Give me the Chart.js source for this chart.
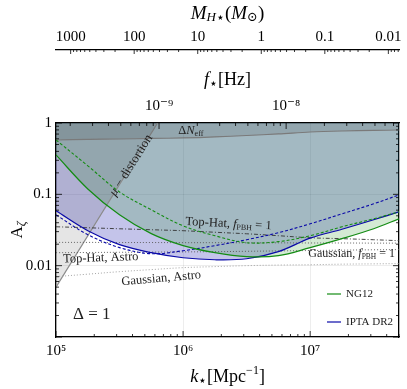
<!DOCTYPE html>
<html>
<head>
<meta charset="utf-8">
<script src="https://cdn.jsdelivr.net/npm/chart.js@4/dist/chart.umd.min.js"></script>
<style>
html, body { margin: 0; padding: 0; background: #fff; }
#wrap { width: 407px; height: 389px; }
</style>
</head>
<body>
<div id="wrap"><canvas id="chart"></canvas></div>
<script>
// k grid (Mpc^-1) shared by all curves
const kGrid = [1e5, 1.78e5, 3.16e5, 5.62e5, 1e6, 1.78e6, 3.16e6, 5.62e6, 1e7, 1.78e7, 3.16e7, 5e7];

// PTA bounds on A_zeta
const ng12Solid = [0.357, 0.119, 0.0516, 0.0281, 0.0191, 0.0152, 0.0134, 0.0138, 0.0179, 0.0239, 0.0329, 0.0454];
const ng12Dashed = [0.578, 0.251, 0.108, 0.0607, 0.0362, 0.0263, 0.0210, 0.0217, 0.0263, 0.0351, 0.0454, 0.0569];
const iptaSolid = [0.0587, 0.0309, 0.0197, 0.0152, 0.0129, 0.0121, 0.0125, 0.0157, 0.0243, 0.0324, 0.0440, 0.0569];
const iptaDashed = [0.0516, 0.0272, 0.0179, 0.0147, 0.0162, 0.0191, 0.0231, 0.0290, 0.0386, 0.0533, 0.0736, 0.0984];

// other bounds
const dNeff = [0.578, 0.588, 0.597, 0.607, 0.617, 0.637, 0.668, 0.702, 0.748, 0.773, 0.786, 0.798];
const topHatFpbh = [0.0351, 0.0340, 0.0329, 0.0319, 0.0309, 0.0294, 0.0280, 0.0263, 0.0246, 0.0239, 0.0231, 0.0224];
const gaussFpbh = [0.0212, 0.0212, 0.0211, 0.0211, 0.0210, 0.0210, 0.0209, 0.0209, 0.0208, 0.0208, 0.0207, 0.0207];
const topHatAstro = [0.0152, 0.0153, 0.0154, 0.0155, 0.0156, 0.0157, 0.0159, 0.0161, 0.0163, 0.0165, 0.0167, 0.0168];
const gaussAstro = [0.00702, 0.0076, 0.00824, 0.0088, 0.00938, 0.0097, 0.0100, 0.0102, 0.0103, 0.0105, 0.0106, 0.0107];

// mu-distortion edge
const muK = [1e5, 6.3e5];
const muA = [0.005, 1];

// axis ranges and conversions
const kMin = 1e5, kMax = 5e7;
const aMin = 1e-3, aMax = 1;
const fPerK = 1.546e-15;      // Hz per Mpc^-1
const mAtK6 = 17;             // M_H in M_sun at k = 1e6 Mpc^-1
const fTicks = [1e-9, 1e-8];
const mTicks = [1000, 100, 10, 1, 0.1, 0.01];

const SERIF = '"Liberation Serif", "DejaVu Serif", serif';
const GREEN = '#148c14';
const BLUE = '#0a0aa8';

const pts = (xs, ys) => xs.map((x, i) => ({ x: x, y: ys[i] }));
const isDecade = v => { const l = Math.log10(v); return Math.abs(l - Math.round(l)) < 1e-6; };
const SUP = { '-': '⁻', '0': '⁰', '1': '¹', '2': '²', '3': '³', '4': '⁴', '5': '⁵', '6': '⁶', '7': '⁷', '8': '⁸', '9': '⁹' };
const pow10 = v => '10' + String(Math.round(Math.log10(v))).split('').map(c => SUP[c]).join('');

function line(label, data, color, width, dash, extra) {
  return Object.assign({
    label: label, data: data, borderColor: color, borderWidth: width,
    borderDash: dash || [], pointRadius: 0, fill: false, tension: 0.35
  }, extra || {});
}

const datasets = [
  line('NG12', pts(kGrid, ng12Solid), GREEN, 1.2, null, { legend: true }),
  line('NG12 dashed', pts(kGrid, ng12Dashed), GREEN, 1.1, [3, 2]),
  line('IPTA DR2', pts(kGrid, iptaSolid), BLUE, 1.2, null, { legend: true }),
  line('IPTA dashed', pts(kGrid, iptaDashed), BLUE, 1.1, [3, 2]),
  line('Top-Hat fPBH', pts(kGrid, topHatFpbh), '#333', 0.9, [4, 2, 1, 2]),
  line('Gaussian fPBH', pts(kGrid, gaussFpbh), '#555', 0.9, [1, 2]),
  line('Top-Hat Astro', pts(kGrid, topHatAstro), '#555', 0.9, [1, 2]),
  line('Gaussian Astro', pts(kGrid, gaussAstro), '#999', 0.9, [1, 2]),
  line('dNeff', pts(kGrid, dNeff), '#7a7a7a', 1.2, null, { fill: 'end', backgroundColor: 'rgba(0,0,0,0.1)' }),
  line('mu', pts(muK, muA), '#8a8a8a', 1.2, null, { fill: 'end', backgroundColor: 'rgba(0,0,0,0.1)', tension: 0 }),
  line('NG12 fill', pts(kGrid, ng12Solid), 'rgba(0,0,0,0)', 0, null, { fill: 'end', backgroundColor: 'rgba(0,128,0,0.17)' }),
  line('IPTA fill', pts(kGrid, iptaSolid), 'rgba(0,0,0,0)', 0, null, { fill: 'end', backgroundColor: 'rgba(0,0,164,0.23)' })
];

// text runs: [text, font, dy]
function runsWidth(ctx, runs) {
  let w = 0;
  runs.forEach(r => { ctx.font = r[1]; w += ctx.measureText(r[0]).width; });
  return w;
}
function drawRuns(ctx, runs, x, y, angle) {
  ctx.save();
  ctx.translate(x, y);
  ctx.rotate((angle || 0) * Math.PI / 180);
  ctx.textBaseline = 'middle';
  ctx.textAlign = 'left';
  let cx = -runsWidth(ctx, runs) / 2;
  runs.forEach(r => {
    ctx.font = r[1];
    ctx.fillText(r[0], cx, r[2] || 0);
    cx += ctx.measureText(r[0]).width;
  });
  ctx.restore();
}
const F = (size, italic) => (italic ? 'italic ' : '') + size + 'px ' + SERIF;

// annotations in data coordinates
const notes = [
  { k: 1.15e6, a: 0.77, angle: 0, runs: [['Δ', F(12.5)], ['N', F(12.5, true)], ['eff', F(8), 3]] },
  { k: 3.9e5, a: 0.255, angle: -57.8, runs: [['μ', F(13, true)], [' − distortion', F(13)]] },
  { k: 2.28e6, a: 0.0385, angle: 3, runs: [['Top-Hat, ', F(12.5)], ['f', F(12.5, true)], ['PBH', F(8), 3], [' = 1', F(12.5)]] },
  { k: 2.12e7, a: 0.0147, angle: 0, runs: [['Gaussian, ', F(12)], ['f', F(12, true)], ['PBH', F(7.5), 3], [' = 1', F(12)]] },
  { k: 2.25e5, a: 0.0128, angle: -2, runs: [['Top-Hat, Astro', F(12.5)]] },
  { k: 6.73e5, a: 0.0066, angle: -5, runs: [['Gaussian, Astro', F(12.5)]] },
  { k: 1.91e5, a: 0.00206, angle: 0, runs: [['Δ = 1', F(17)]] }
];

function logTicks(min, max) {
  const out = [];
  for (let e = Math.floor(Math.log10(min)); e <= Math.ceil(Math.log10(max)); e++) {
    for (let m = 1; m < 10; m++) {
      const v = m * Math.pow(10, e);
      if (v >= min * 0.999 && v <= max * 1.001) out.push({ v: v, major: m === 1 });
    }
  }
  return out;
}

const decorPlugin = {
  id: 'decor',
  afterDatasetsDraw(chart) {
    const { ctx, chartArea: a, scales } = chart;
    const x = scales.x, y = scales.y, fs = scales.f, ms = scales.m;
    ctx.save();
    ctx.strokeStyle = '#000';
    ctx.lineWidth = 0.8;
    ctx.beginPath();
    logTicks(kMin, kMax).forEach(t => {
      const px = x.getPixelForValue(t.v);
      ctx.moveTo(px, a.bottom); ctx.lineTo(px, a.bottom - (t.major ? 6 : 3));
    });
    logTicks(fs.min, fs.max).forEach(t => {
      const px = fs.getPixelForValue(t.v);
      ctx.moveTo(px, a.top); ctx.lineTo(px, a.top + (t.major ? 6 : 3));
    });
    logTicks(aMin, aMax).forEach(t => {
      const py = y.getPixelForValue(t.v);
      ctx.moveTo(a.left, py); ctx.lineTo(a.left + (t.major ? 6 : 3), py);
      ctx.moveTo(a.right, py); ctx.lineTo(a.right - (t.major ? 6 : 3), py);
    });
    logTicks(ms.min, ms.max).forEach(t => {
      const px = ms.getPixelForValue(t.v);
      ctx.moveTo(px, ms.bottom); ctx.lineTo(px, ms.bottom + (t.major ? 4 : 2));
    });
    ctx.stroke();

    // annotations
    ctx.fillStyle = '#222';
    notes.forEach(n => drawRuns(ctx, n.runs, x.getPixelForValue(n.k), y.getPixelForValue(n.a), n.angle));

    // legend inside the plot
    const items = chart.data.datasets.filter(d => d.legend);
    let ly = a.bottom - 43;
    items.forEach(d => {
      ctx.strokeStyle = d.borderColor;
      ctx.lineWidth = 1.2;
      ctx.beginPath();
      ctx.moveTo(a.right - 72, ly); ctx.lineTo(a.right - 58, ly);
      ctx.stroke();
      ctx.fillStyle = '#222';
      ctx.font = F(11);
      ctx.textAlign = 'left';
      ctx.textBaseline = 'middle';
      ctx.fillText(d.label, a.right - 53, ly);
      ly += 28;
    });
    ctx.restore();
  },
  afterDraw(chart) {
    const { ctx, chartArea: a } = chart;
    const cx = (a.left + a.right) / 2;
    ctx.save();
    ctx.fillStyle = '#000';
    drawRuns(ctx, [['M', F(19, true)], ['H', F(13, true), 4], ['⋆', F(14), 4], ['(', F(19)], ['M', F(19, true)], ['⊙', F(13), 4], [')', F(19)]], cx, 14);
    drawRuns(ctx, [['f', F(18, true)], ['⋆', F(14), 4], ['[Hz]', F(18)]], cx, 80);
    drawRuns(ctx, [['k', F(18, true)], ['⋆', F(14), 4], ['[Mpc', F(18)], ['−1', F(12), -6], [']', F(18)]], cx, 377);
    drawRuns(ctx, [['A', F(17)], ['ζ', F(12, true), 4]], 18, (a.top + a.bottom) / 2, -90);
    ctx.restore();
  }
};

const tickFont = { family: SERIF, size: 15 };

new Chart(document.getElementById('chart'), {
  type: 'line',
  data: { datasets: datasets },
  plugins: [decorPlugin],
  options: {
    responsive: true,
    maintainAspectRatio: false,
    devicePixelRatio: 1,
    animation: false,
    layout: { padding: 0 },
    plugins: { legend: { display: false }, tooltip: { enabled: false } },
    scales: {
      x: {
        type: 'logarithmic', position: 'bottom', min: kMin, max: kMax,
        grid: { color: c => isDecade(c.tick.value) ? 'rgba(0,0,0,0.07)' : 'rgba(0,0,0,0)', drawTicks: false },
        border: { color: '#000', width: 1.3 },
        ticks: { autoSkip: false, maxRotation: 0, padding: 5, color: '#000', font: tickFont,
          callback: v => isDecade(v) ? pow10(v) : '' },
        afterFit: s => { s.height = 52; }
      },
      f: {
        type: 'logarithmic', position: 'top', weight: 0,
        min: kMin * fPerK, max: kMax * fPerK,
        grid: { drawOnChartArea: false, drawTicks: false },
        border: { color: '#000', width: 1.3 },
        ticks: { autoSkip: false, maxRotation: 0, padding: 8, color: '#000', font: tickFont,
          callback: v => fTicks.some(t => Math.abs(v / t - 1) < 1e-6) ? pow10(v) : '' },
        afterFit: s => { s.height = 73; }
      },
      m: {
        type: 'logarithmic', position: 'top', weight: 10, reverse: true,
        min: mAtK6 * Math.pow(kMax / 1e6, -2), max: mAtK6 * Math.pow(kMin / 1e6, -2),
        grid: { drawOnChartArea: false, drawTicks: false },
        border: { color: '#000', width: 1.3 },
        ticks: { autoSkip: false, maxRotation: 0, padding: 4, color: '#000', font: tickFont,
          callback: v => mTicks.some(t => Math.abs(v / t - 1) < 1e-6) ? String(mTicks.find(t => Math.abs(v / t - 1) < 1e-6)) : '' },
        afterFit: s => { s.height = 50; }
      },
      y: {
        type: 'logarithmic', position: 'left', min: aMin, max: aMax,
        grid: { color: c => isDecade(c.tick.value) ? 'rgba(0,0,0,0.07)' : 'rgba(0,0,0,0)', drawTicks: false },
        border: { color: '#000', width: 1.3 },
        ticks: { autoSkip: false, padding: 4, color: '#000', font: tickFont,
          callback: v => { const l = Math.round(Math.log10(v)); return isDecade(v) && l >= -2 ? ({ '0': '1', '-1': '0.1', '-2': '0.01' })[l] : ''; } },
        afterFit: s => { s.width = 56; }
      },
      yR: {
        type: 'logarithmic', position: 'right', min: aMin, max: aMax,
        grid: { drawOnChartArea: false, drawTicks: false },
        border: { color: '#000', width: 1.3 },
        ticks: { display: false },
        afterFit: s => { s.width = 5; }
      }
    }
  }
});
</script>
</body>
</html>
